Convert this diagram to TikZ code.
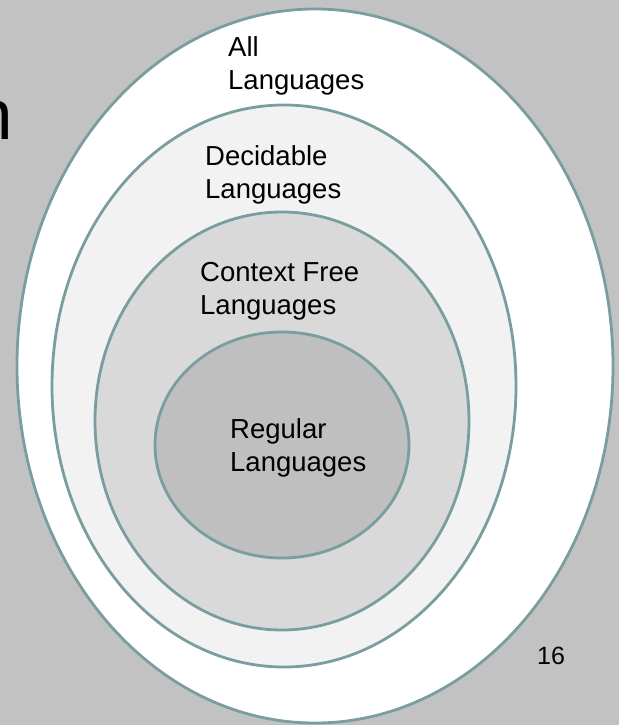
\documentclass[tikz,border=0pt]{standalone}
\usepackage{fontspec}
\setmainfont{Liberation Sans}
\definecolor{bggray}{HTML}{C2C2C2}
\definecolor{ringline}{HTML}{7A9E9F}
\definecolor{fillB}{HTML}{F2F2F2}
\definecolor{fillC}{HTML}{D9D9D9}
\definecolor{fillD}{HTML}{BFBFBF}
\tikzset{
  ring/.style={draw=ringline, line width=2.8pt},
  lbl/.style={anchor=north west, inner sep=0pt, align=left, text=black,
    font=\fontsize{27.5}{33}\selectfont},
}
\begin{document}
\begin{tikzpicture}[x=1pt,y=-1pt]
\useasboundingbox (0,0) rectangle (619,725);
\fill[bggray] (0,0) rectangle (619,725);
\node[anchor=base west, inner sep=0pt, font=\fontsize{71}{80}\selectfont] (title) at (-27,139) {n};
\draw[ring, fill=white] (315,366) ellipse [x radius=298pt, y radius=357pt];
\draw[ring, fill=fillB] (284,386) ellipse [x radius=232pt, y radius=281pt];
\draw[ring, fill=fillC] (282,421) ellipse [x radius=187pt, y radius=209pt];
\draw[ring, fill=fillD] (282,445) ellipse [x radius=127pt, y radius=113pt];
\node[lbl] (all) at (228,36) {All\\Languages};
\node[lbl] (dec) at (205,145) {Decidable\\Languages};
\node[lbl] (cfl) at (200,262) {Context Free\\Languages};
\node[lbl] (reg) at (230,418) {Regular\\Languages};
\node[anchor=base west, inner sep=0pt, font=\fontsize{25}{30}\selectfont] (page) at (537,664) {16};
\end{tikzpicture}
\end{document}
